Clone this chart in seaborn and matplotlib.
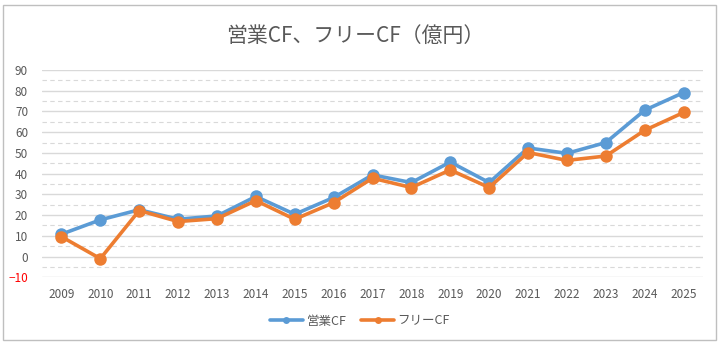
import matplotlib
matplotlib.use("Agg")
import matplotlib.pyplot as plt
import seaborn as sns
import pandas as pd
from matplotlib.patches import Rectangle
from matplotlib.ticker import MultipleLocator

years = ["2009", "2010", "2011", "2012", "2013", "2014", "2015", "2016", "2017",
         "2018", "2019", "2020", "2021", "2022", "2023", "2024", "2025"]
operating_cf = [10.8, 17.7, 22.6, 18.0, 19.6, 29.0, 20.4, 28.5, 39.4,
                35.7, 45.6, 35.7, 52.4, 49.8, 55.0, 70.6, 79.1]
free_cf = [9.6, -1.0, 22.2, 16.9, 18.3, 27.0, 18.0, 26.0, 37.8,
           33.3, 41.8, 33.3, 50.2, 46.4, 48.5, 60.9, 69.5]
series_names = ["営業CF", "フリーCF"]
title = "営業CF、フリーCF（億円）"

sns.set_theme(style="white")
plt.rcParams['font.family'] = ['Noto Sans CJK JP', 'DejaVu Sans']

df = pd.DataFrame({
    "year": years * 2,
    "value": operating_cf + free_cf,
    "series": [series_names[0]] * len(years) + [series_names[1]] * len(years),
})

fig = plt.figure(figsize=(7.24, 3.48), dpi=100)
W, H = 724, 348
ax = fig.add_axes([42 / W, 1 - 277.3 / H, (703 - 42) / W, (277.3 - 70) / H])

# outer border
fig.patches.append(Rectangle((3 / W, 1 - 340 / H), (716 - 3) / W, (340 - 5) / H,
                             transform=fig.transFigure, fill=False,
                             edgecolor="#BFBFBF", linewidth=1.0))

palette = {series_names[0]: "#5B9BD5", series_names[1]: "#ED7D31"}
sns.lineplot(data=df, x="year", y="value", hue="series", palette=palette,
             marker="o", markersize=9, markeredgewidth=0, linewidth=2.6,
             sort=False, ax=ax, legend=False, zorder=3)

ax.set_ylim(-10, 90)
ax.set_xlim(-0.5, len(years) - 0.5)
ax.yaxis.set_major_locator(MultipleLocator(10))
ax.yaxis.set_minor_locator(MultipleLocator(5))
ax.grid(which="major", axis="y", color="#D9D9D9", linewidth=1.0, zorder=0)
ax.grid(which="minor", axis="y", color="#D9D9D9", linewidth=0.8,
        linestyle=(0, (4, 3)), zorder=0)
ax.set_axisbelow(True)
for s in ax.spines.values():
    s.set_visible(False)
ax.tick_params(axis="both", which="both", length=0, labelsize=8.5,
               colors="#595959")
ax.tick_params(axis="y", pad=10)
ax.tick_params(axis="x", pad=8)
ax.set_xlabel("")
ax.set_ylabel("")
for lbl in ax.get_yticklabels():
    if lbl.get_text().replace("\u2212", "-") == "-10":
        lbl.set_color("red")
fig.canvas.draw()
for lbl in ax.get_yticklabels():
    if lbl.get_text().replace("\u2212", "-") == "-10":
        lbl.set_color("red")

fig.text(0.49, 1 - 36 / H, title, ha="center", va="center",
         fontsize=15, color="#595959")

from matplotlib.lines import Line2D
handles = [Line2D([], [], color=palette[n], linewidth=2.6, marker="o",
                  markersize=5, markeredgewidth=0) for n in series_names]
leg = fig.legend(handles, series_names, loc="center",
                 bbox_to_anchor=(360 / W, 1 - 321 / H), ncol=2, frameon=False,
                 fontsize=9, handlelength=2.6, columnspacing=1.2,
                 handletextpad=0.3)
for t in leg.get_texts():
    t.set_color("#595959")

fig.savefig("out.png", dpi=100)
